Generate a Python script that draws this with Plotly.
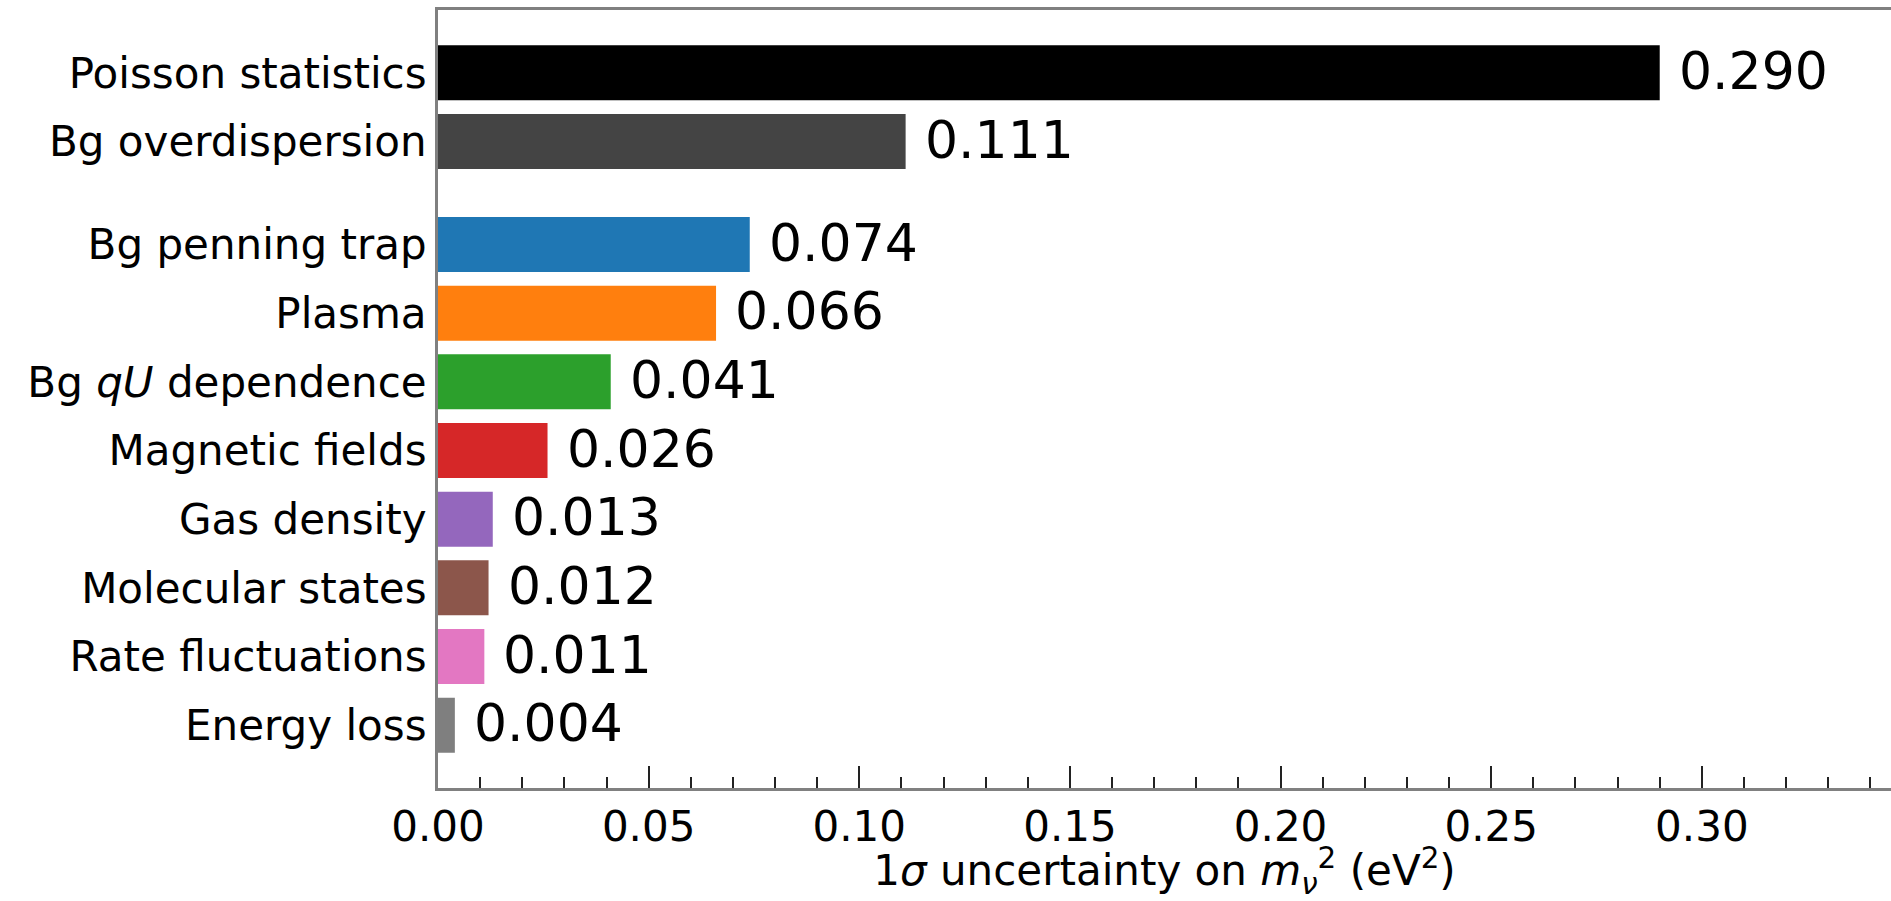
import plotly.graph_objects as go

# Uncertainty breakdown on the squared neutrino mass (top to bottom)
stat_labels = ["Poisson statistics", "Bg overdispersion"]
stat_values = [0.290, 0.111]

syst_labels = [
    "Bg penning trap",
    "Plasma",
    "Bg <i>qU</i> dependence",
    "Magnetic fields",
    "Gas density",
    "Molecular states",
    "Rate fluctuations",
    "Energy loss",
]
syst_values = [0.074, 0.066, 0.041, 0.026, 0.013, 0.012, 0.011, 0.004]

stat_colors = ["#000000", "#444444"]
syst_colors = ["#1f77b4", "#ff7f0e", "#2ca02c", "#d62728",
               "#9467bd", "#8c564b", "#e377c2", "#7f7f7f"]

FONT = "DejaVu Sans"
GROUP_GAP = 0.5
BAR_WIDTH = 0.8

# Positions: systematic group from the bottom, statistical group above with a gap
n_syst = len(syst_labels)
syst_pos = [n_syst - 1 - i for i in range(n_syst)]
stat_pos = [n_syst - 1 + GROUP_GAP + len(stat_labels) - i for i in range(len(stat_labels))]

labels = stat_labels + syst_labels
values = stat_values + syst_values
colors = stat_colors + syst_colors
positions = stat_pos + syst_pos

fig = go.Figure()
fig.add_trace(go.Bar(
    x=values,
    y=positions,
    orientation="h",
    width=BAR_WIDTH,
    marker=dict(color=colors, line=dict(width=0)),
    hoverinfo="x+text",
    hovertext=labels,
))

for v, p in zip(values, positions):
    fig.add_annotation(
        x=v, y=p, xref="x", yref="y",
        text=f"{v:.3f}",
        showarrow=False,
        xanchor="left", yanchor="middle",
        xshift=17, yshift=2,
        font=dict(family=FONT, size=52, color="#000000"),
    )

lo = min(positions) - BAR_WIDTH / 2
hi = max(positions) + BAR_WIDTH / 2
pad = 0.05 * (hi - lo)

fig.update_layout(
    width=1891,
    height=901,
    margin=dict(l=438, r=0, t=10, b=113),
    paper_bgcolor="white",
    plot_bgcolor="white",
    showlegend=False,
    font=dict(family=FONT, color="#000000"),
    xaxis=dict(
        range=[0, 0.3449],
        tickmode="linear", tick0=0, dtick=0.05,
        tickformat=".2f",
        ticks="inside", ticklen=22, tickwidth=2, tickcolor="#222222",
        minor=dict(dtick=0.01, ticks="inside", ticklen=11, tickwidth=2,
                   tickcolor="#222222", showgrid=False),
        showline=True, linecolor="#808080", linewidth=3, mirror=True,
        showgrid=False, zeroline=False,
        tickfont=dict(family=FONT, size=42, color="#000000"),
        title=dict(
            text="1<i>σ</i> uncertainty on <i>m</i><sub><i>ν</i></sub><sup>2</sup> (eV<sup>2</sup>)",
            font=dict(family=FONT, size=42, color="#000000"),
            standoff=8,
        ),
    ),
    yaxis=dict(
        range=[lo - pad, hi + pad],
        tickmode="array",
        tickvals=positions,
        ticktext=labels,
        ticks="",
        showline=True, linecolor="#808080", linewidth=3,
        showgrid=False, zeroline=False,
        tickfont=dict(family=FONT, size=42, color="#000000"),
        ticklabelstandoff=0,
    ),
)

fig.write_html("out.html")
